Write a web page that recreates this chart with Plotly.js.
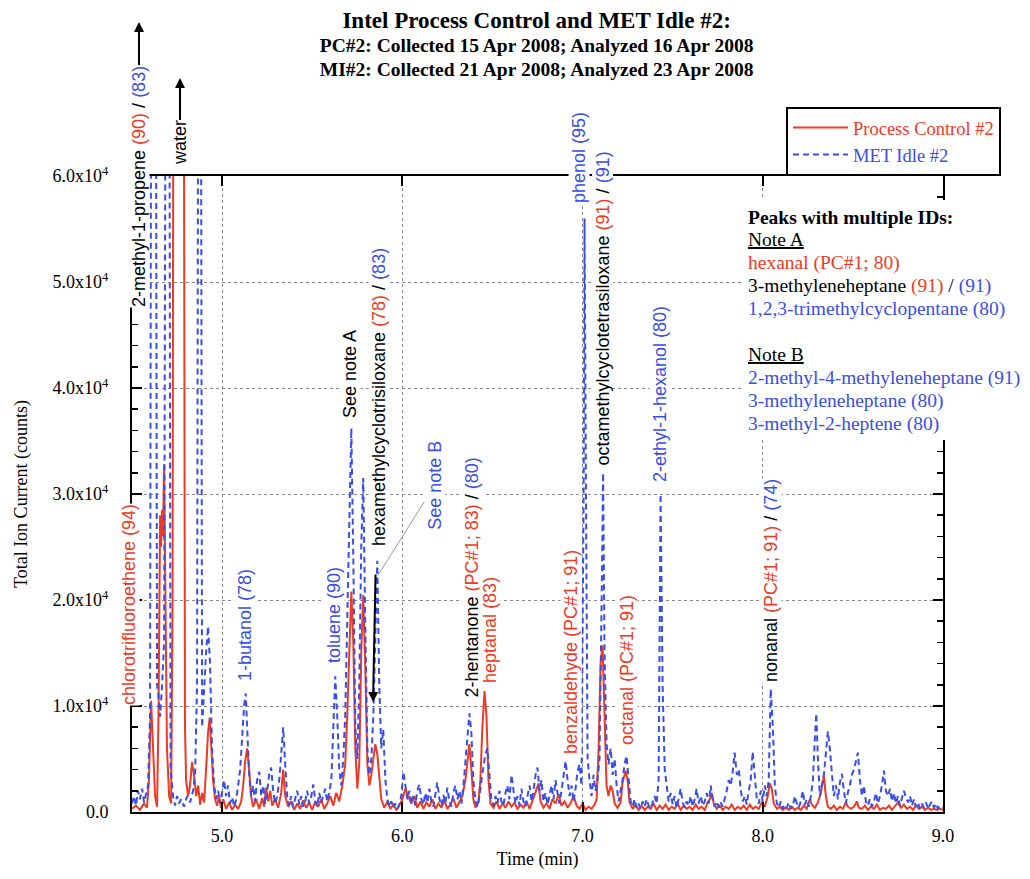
<!DOCTYPE html>
<html>
<head>
<meta charset="utf-8">
<script src="https://cdn.plot.ly/plotly-3.0.1.min.js"></script>
<style>html,body{margin:0;padding:0;background:#fff;}#chart{width:1030px;height:879px;}</style>
</head>
<body>
<div id="chart"></div>
<script>
// ---- Process Control #2 (red, solid): time (min) and total ion current (counts)
const pcTime = [
4.500,4.522,4.544,4.567,4.583,4.594,4.606,4.617,4.628,4.639,
4.647,4.656,4.661,4.667,4.672,4.678,4.686,4.694,4.706,4.717,
4.725,4.731,4.786,4.794,4.800,4.811,4.822,4.833,4.844,4.856,
4.867,4.878,4.889,4.900,4.911,4.922,4.931,4.939,4.950,4.961,
4.972,4.983,4.994,5.006,5.022,5.039,5.056,5.072,5.089,5.106,
5.117,5.128,5.139,5.150,5.161,5.172,5.189,5.206,5.222,5.233,
5.244,5.256,5.267,5.278,5.294,5.311,5.328,5.339,5.350,5.367,
5.383,5.400,5.417,5.433,5.450,5.467,5.483,5.500,5.517,5.533,
5.550,5.567,5.583,5.600,5.617,5.633,5.650,5.667,5.683,5.694,
5.706,5.717,5.728,5.739,5.750,5.761,5.772,5.783,5.794,5.806,
5.817,5.828,5.839,5.850,5.861,5.872,5.883,5.900,5.917,5.933,
5.950,5.967,5.983,6.000,6.017,6.033,6.050,6.067,6.083,6.100,
6.117,6.133,6.150,6.167,6.183,6.200,6.217,6.233,6.250,6.267,
6.283,6.300,6.317,6.333,6.350,6.361,6.372,6.383,6.394,6.406,
6.422,6.433,6.444,6.456,6.467,6.478,6.489,6.506,6.522,6.539,
6.556,6.572,6.589,6.606,6.622,6.639,6.656,6.672,6.689,6.706,
6.722,6.739,6.756,6.767,6.783,6.800,6.817,6.833,6.850,6.867,
6.883,6.900,6.917,6.933,6.950,6.967,6.983,7.000,7.017,7.033,
7.050,7.067,7.078,7.089,7.100,7.111,7.122,7.133,7.144,7.156,
7.167,7.178,7.194,7.211,7.222,7.239,7.250,7.261,7.278,7.294,
7.311,7.328,7.344,7.361,7.378,7.394,7.411,7.428,7.444,7.461,
7.478,7.494,7.511,7.528,7.544,7.561,7.578,7.594,7.611,7.628,
7.644,7.661,7.678,7.694,7.706,7.717,7.728,7.744,7.761,7.778,
7.794,7.811,7.828,7.844,7.861,7.878,7.894,7.911,7.928,7.944,
7.961,7.978,7.994,8.011,8.028,8.039,8.050,8.061,8.078,8.094,
8.111,8.128,8.144,8.161,8.178,8.194,8.211,8.228,8.244,8.261,
8.272,8.289,8.306,8.322,8.339,8.350,8.361,8.378,8.394,8.411,
8.428,8.444,8.461,8.472,8.489,8.506,8.522,8.533,8.550,8.567,
8.583,8.600,8.617,8.633,8.650,8.667,8.683,8.700,8.717,8.733,
8.750,8.767,8.783,8.800,8.817,8.833,8.850,8.867,8.883,8.900,
8.917,8.933,8.950,8.967,8.983,9.000];
const pcCounts = [
300,600,200,800,400,3000,10500,6000,1500,500,
9000,28000,25000,28500,26000,32800,20000,6000,1500,800,
20000,90000,90000,8000,3000,1500,2500,4700,3500,1500,
2500,700,1800,900,4000,7500,8900,6500,3000,1200,
600,1500,400,1200,300,900,200,700,300,1000,
2500,4800,6000,4000,1500,500,1200,300,1300,500,
2300,1000,2000,600,1200,400,1800,4000,1500,500,
1000,200,800,300,1100,400,900,200,1000,500,
1200,300,800,1500,600,1800,1000,2500,4500,9000,
16000,20800,16000,6000,2200,4500,15000,20500,14000,4500,
2500,3500,5000,6400,5500,3000,1200,400,1000,300,
700,200,600,1200,2200,1500,800,1500,400,1000,
300,900,500,1200,300,800,400,1100,300,700,
1300,400,1000,1500,3000,5000,6400,4000,1200,400,
900,3000,8000,11400,9000,3000,800,400,1000,300,
800,400,1000,500,900,300,700,400,1000,300,
1100,1800,2700,1000,400,800,300,1200,800,1700,
600,1000,400,800,1500,600,300,800,200,500,
300,700,1200,6000,14000,15700,9000,2500,1500,2500,
2000,800,400,900,2800,3900,3000,900,300,700,
200,600,200,500,300,800,200,600,300,700,
200,500,300,800,200,600,300,500,200,700,
300,500,200,900,1200,1800,800,300,600,200,
500,300,700,200,500,300,600,200,700,300,
500,300,900,500,1500,2700,2200,800,300,500,
200,400,200,500,200,400,200,600,300,1200,
700,400,900,1800,3400,1500,500,300,600,200,
500,300,900,500,300,500,1000,400,300,600,
200,500,300,700,200,400,300,600,200,500,
900,400,700,300,500,200,600,300,500,200,
400,200,300,200,300,200];

// ---- MET Idle #2 (blue, dashed)
const miTime = [
4.500,4.511,4.522,4.533,4.544,4.556,4.567,4.578,4.589,4.600,
4.608,4.631,4.639,4.647,4.656,4.667,4.678,4.689,4.706,4.714,
4.728,4.739,4.750,4.761,4.772,4.789,4.806,4.822,4.839,4.850,
4.861,4.869,4.881,4.889,4.900,4.911,4.922,4.933,4.944,4.956,
4.967,4.978,4.989,5.000,5.011,5.022,5.033,5.044,5.056,5.067,
5.078,5.089,5.100,5.111,5.122,5.131,5.139,5.150,5.161,5.172,
5.183,5.194,5.206,5.217,5.228,5.239,5.250,5.261,5.272,5.283,
5.294,5.306,5.317,5.328,5.339,5.350,5.361,5.372,5.383,5.394,
5.406,5.417,5.428,5.439,5.450,5.461,5.472,5.483,5.494,5.506,
5.517,5.528,5.539,5.550,5.561,5.572,5.583,5.594,5.606,5.617,
5.628,5.639,5.650,5.661,5.672,5.683,5.694,5.706,5.717,5.728,
5.739,5.750,5.761,5.772,5.783,5.794,5.806,5.817,5.828,5.839,
5.850,5.861,5.872,5.883,5.894,5.906,5.917,5.928,5.939,5.950,
5.961,5.972,5.983,5.994,6.006,6.017,6.028,6.039,6.050,6.061,
6.072,6.083,6.094,6.106,6.117,6.128,6.139,6.150,6.161,6.172,
6.183,6.194,6.206,6.217,6.228,6.239,6.250,6.261,6.272,6.283,
6.294,6.306,6.317,6.328,6.339,6.350,6.361,6.372,6.383,6.394,
6.406,6.417,6.428,6.439,6.450,6.461,6.472,6.483,6.494,6.506,
6.517,6.528,6.539,6.550,6.561,6.572,6.583,6.594,6.606,6.617,
6.628,6.639,6.650,6.661,6.672,6.683,6.694,6.706,6.717,6.728,
6.739,6.750,6.761,6.772,6.783,6.794,6.806,6.817,6.828,6.839,
6.850,6.861,6.872,6.883,6.894,6.906,6.917,6.928,6.939,6.950,
6.961,6.972,6.983,6.994,7.006,7.011,7.019,7.028,7.039,7.050,
7.061,7.072,7.083,7.094,7.106,7.114,7.122,7.133,7.144,7.156,
7.167,7.178,7.189,7.200,7.211,7.222,7.233,7.244,7.256,7.267,
7.278,7.289,7.300,7.311,7.322,7.333,7.344,7.356,7.367,7.378,
7.389,7.400,7.411,7.422,7.433,7.444,7.456,7.467,7.478,7.489,
7.500,7.511,7.522,7.533,7.544,7.556,7.567,7.578,7.589,7.600,
7.611,7.622,7.633,7.644,7.656,7.667,7.678,7.689,7.700,7.711,
7.722,7.733,7.744,7.756,7.767,7.778,7.789,7.800,7.811,7.822,
7.833,7.844,7.856,7.867,7.878,7.889,7.900,7.911,7.922,7.933,
7.944,7.956,7.967,7.978,7.989,8.000,8.011,8.022,8.033,8.044,
8.056,8.067,8.078,8.089,8.100,8.111,8.122,8.133,8.144,8.156,
8.167,8.178,8.189,8.200,8.211,8.222,8.233,8.244,8.256,8.267,
8.278,8.289,8.297,8.306,8.317,8.328,8.339,8.350,8.361,8.372,
8.383,8.394,8.406,8.417,8.428,8.439,8.450,8.461,8.472,8.483,
8.494,8.506,8.517,8.528,8.539,8.550,8.561,8.572,8.583,8.594,
8.606,8.617,8.628,8.639,8.650,8.661,8.672,8.683,8.694,8.706,
8.717,8.728,8.739,8.750,8.761,8.772,8.783,8.794,8.806,8.817,
8.828,8.839,8.850,8.861,8.872,8.883,8.894,8.906,8.917,8.928,
8.939,8.950,8.961,8.972,8.983,9.000];
const miCounts = [
800,1500,600,2000,1200,2200,900,1800,2500,9000,
90000,90000,12000,11000,9000,12000,16000,90000,90000,4000,
1500,600,1500,800,1200,500,1500,900,2000,3500,
12000,90000,90000,8000,12000,15000,17500,14000,6000,2500,
1200,2000,800,1800,3000,1500,2500,800,1400,500,
1200,2500,4000,7000,10000,11200,8000,3500,1500,2500,
1000,3000,3800,1500,2500,800,2000,3500,4200,2000,
800,1500,3000,6000,8000,4500,1500,600,1500,500,
1200,2000,700,1500,500,1000,2000,800,1400,2600,
1000,500,1800,900,1500,2200,1000,1800,3000,8000,
12800,9000,4000,2500,5000,9000,18000,30000,36200,24000,
8000,5000,12000,25000,31500,18000,6000,3500,5000,9000,
16000,23700,12000,6000,7800,3000,1200,500,1000,400,
800,300,700,1500,3800,2500,1200,2000,800,1500,
600,2000,2600,1200,700,1800,900,2200,1000,500,
1500,2800,1200,600,1600,800,2300,1000,500,1800,
2500,1200,2000,800,2500,4500,7000,9300,7500,3000,
1000,500,1500,3000,4500,5500,6000,3500,1200,600,
1500,800,2000,1000,600,1800,2500,1200,3500,2000,
800,1500,600,2200,1000,500,1500,2500,1000,2000,
3500,4200,2000,3000,1000,1800,700,1500,2500,1200,
3000,1800,800,2000,3500,4800,3000,1500,2500,1000,
2200,3800,4500,2500,30000,56000,30000,5000,3000,1500,
3500,2000,3000,5000,20000,32000,15000,6500,4500,6000,
3500,5000,2500,1000,2000,3000,4500,5300,3000,1000,
500,1200,400,800,300,1000,500,1200,600,300,
900,1500,800,3000,30000,12000,4000,2500,1000,1800,
700,1500,400,1200,2200,900,400,1000,600,1500,
500,1200,2200,800,1500,600,1000,1800,800,2500,
1200,500,1000,400,900,500,1200,2000,3000,2500,
3800,5600,3500,4000,2000,1000,1500,700,2000,3000,
5700,3500,1200,800,2000,1000,2500,1500,3000,11600,
8000,2500,800,400,1000,300,700,400,900,300,
600,1500,800,400,1000,2000,700,1200,500,1500,
3000,7000,9300,5000,1500,2500,3500,5500,7600,6000,
3500,1500,2500,1200,2800,3600,2000,800,1800,2500,
3500,4000,4800,5600,3000,1500,2500,1000,600,1200,
500,1000,1800,800,1500,2500,3900,2000,1500,2200,
1000,1800,800,1500,600,1200,2000,1400,900,1500,
600,1200,500,900,300,800,400,900,300,700,
1000,400,800,300,600,400];

// ---- axis ticks
const yTickVals = [0, 10000, 20000, 30000, 40000, 50000, 60000];
const yTickText = ['0.0', '1.0x10<sup>4</sup>', '2.0x10<sup>4</sup>', '3.0x10<sup>4</sup>',
                   '4.0x10<sup>4</sup>', '5.0x10<sup>4</sup>', '6.0x10<sup>4</sup>'];

const RED = '#ee3a24', BLUE = '#3a4ee6';
const SERIF = '"Liberation Serif", "Times New Roman", Times, serif';
const SANS = '"Liberation Sans", Arial, Helvetica, sans-serif';
const r = t => '<span style="color:' + RED + '">' + t + '</span>';
const b = t => '<span style="color:' + BLUE + '">' + t + '</span>';

// ---- peak labels (rotated), positions in paper units
const peakLabels = [
  {x: 0.0086, y: 0.9835, text: '2-methyl-1-propene ' + r('(90)') + ' / ' + b('(83)'),
   arrow: {x: 0.0086, y: 1.2421, ax: 0, ay: 164}},
  {x: 0.0592, y: 1.0511, text: 'water',
   arrow: {x: 0.0592, y: 1.1541, ax: 0, ay: 65}},
  {x: -0.0037, y: 0.3270, text: r('chlorotrifluoroethene (94)')},
  {x: 0.1393, y: 0.2940, text: b('1-butanol (78)')},
  {x: 0.2491, y: 0.3097, text: b('toluene (90)')},
  {x: 0.2688, y: 0.6887, text: 'See note A'},
  {x: 0.3046, y: 0.6533, text: 'hexamethylcyclotrisiloxane ' + r('(78)') + ' / ' + b('(83)'),
   arrow: {x: 0.2972, y: 0.1730, ax: 6, ay: -305, standoff: 28}},
  {x: 0.4192, y: 0.3687, text: '2-hentanone ' + r('(PC#1; 83)') + ' / ' + b('(80)')},
  {x: 0.4414, y: 0.2862, text: r('heptanal (83)')},
  {x: 0.5413, y: 0.2516, text: r('benzaldehyde (PC#1; 91)')},
  {x: 0.5512, y: 1.0283, text: b('phenol (95)')},
  {x: 0.5808, y: 0.7917, text: 'octamethylcyclotetrasiloxane ' + r('(91)') + ' / ' + b('(91)')},
  {x: 0.6104, y: 0.2233, text: r('octanal (PC#1; 91)')},
  {x: 0.6510, y: 0.6572, text: b('2-ethyl-1-hexanol (80)')},
  {x: 0.7879, y: 0.3648, text: 'nonanal ' + r('(PC#1; 91)') + ' / ' + b('(74)')}
];

// ---- "Peaks with multiple IDs" notes block
const noteLines = [
  '<b>Peaks with multiple IDs:</b>',
  '<u>Note A</u>',
  r('hexanal (PC#1; 80)'),
  '3-methyleneheptane ' + r('(91)') + ' / ' + b('(91)'),
  b('1,2,3-trimethylcyclopentane (80)'),
  '<u>Note B</u>',
  b('2-methyl-4-methyleneheptane (91)'),
  b('3-methyleneheptane (80)'),
  b('3-methyl-2-heptene (80)')
];
const noteY = [0.9355, 0.8994, 0.8632, 0.8270, 0.7909, 0.7186, 0.6824, 0.6462, 0.6101];

const annotations = [];
peakLabels.forEach(p => {
  const a = {
    xref: 'paper', yref: 'paper', x: p.x, y: p.y, text: p.text,
    textangle: -90, showarrow: false, xanchor: 'center', yanchor: 'middle',
    bgcolor: 'white', borderpad: 0,
    font: {family: SANS, size: 18, color: '#000'}
  };
  if (p.arrow) {
    Object.assign(a, {x: p.arrow.x, y: p.arrow.y, ax: p.arrow.ax, ay: p.arrow.ay,
      showarrow: true, arrowhead: 2, arrowsize: 1, arrowwidth: 2, arrowcolor: '#000',
      startstandoff: p.arrow.standoff || 0, xanchor: 'auto', yanchor: 'auto'});
  }
  annotations.push(a);
});
// "See note B" with gray leader line to its peak
annotations.push({
  xref: 'x', yref: 'y', x: 5.864, y: 22300, axref: 'x', ayref: 'y', ax: 6.180, ay: 30850,
  text: b('See note B'), textangle: -90, showarrow: true, arrowhead: 0, arrowwidth: 1,
  arrowcolor: '#9a9a9a', bgcolor: 'white', borderpad: 0,
  font: {family: SANS, size: 18, color: '#000'}
});
noteLines.forEach((t, i) => annotations.push({
  xref: 'paper', yref: 'paper', x: 0.7571, y: noteY[i], text: t, showarrow: false,
  xanchor: 'left', yanchor: 'middle', align: 'left',
  font: {family: SERIF, size: 19.5, color: '#000'}
}));

const traces = [
  {x: pcTime, y: pcCounts, type: 'scatter', mode: 'lines',
   name: '<span style="color:' + RED + '">Process Control #2</span>',
   line: {color: RED, width: 2}},
  {x: miTime, y: miCounts, type: 'scatter', mode: 'lines',
   name: '<span style="color:' + BLUE + '">MET Idle #2</span>',
   line: {color: BLUE, width: 2, dash: '6px,4px'}}
];

const layout = {
  width: 1030, height: 879,
  margin: {l: 132, r: 87, t: 176, b: 67},
  paper_bgcolor: 'white', plot_bgcolor: 'white',
  font: {family: SERIF, size: 18, color: '#000'},
  title: {
    text: '<span style="font-size:23px">Intel Process Control and MET Idle #2:</span><br>' +
          '<span style="font-size:19.5px">PC#2: Collected 15 Apr 2008; Analyzed 16 Apr 2008</span><br>' +
          '<span style="font-size:19.5px">MI#2: Collected 21 Apr 2008; Analyzed 23 Apr 2008</span>',
    x: 0.521, xanchor: 'center', xref: 'container',
    y: 0.968, yanchor: 'top', yref: 'container',
    font: {family: SERIF, size: 18.5, color: '#000', weight: 'bold'}
  },
  showlegend: true,
  legend: {
    x: 0.8064, y: 1.1085, xanchor: 'left', yanchor: 'top',
    bgcolor: 'white', bordercolor: '#000', borderwidth: 2,
    font: {family: SERIF, size: 18.5, color: '#000'},
    itemwidth: 55, tracegroupgap: 0
  },
  xaxis: {
    range: [4.5, 9.0], tick0: 5, dtick: 1, tickformat: '.1f',
    ticks: 'inside', ticklen: 10, tickwidth: 2, tickcolor: '#000',
    showline: true, linecolor: '#000', linewidth: 2, mirror: 'ticks',
    showgrid: true, gridcolor: '#8a8a8a', gridwidth: 1, griddash: 'dot',
    zeroline: false, ticklabelstandoff: 6,
    tickfont: {family: SERIF, size: 18},
    title: {text: 'Time (min)', standoff: 8, font: {family: SERIF, size: 18}}
  },
  yaxis: {
    range: [0, 60000], tickmode: 'array', tickvals: yTickVals, ticktext: yTickText,
    ticks: 'inside', ticklen: 10, tickwidth: 2, tickcolor: '#000',
    minor: {tickmode: 'linear', tick0: 0, dtick: 2000, ticks: 'inside', ticklen: 6,
            tickwidth: 1.5, tickcolor: '#000', showgrid: false},
    showline: true, linecolor: '#000', linewidth: 2, mirror: 'ticks',
    showgrid: true, gridcolor: '#8a8a8a', gridwidth: 1, griddash: 'dot',
    zeroline: false, ticklabelstandoff: 18,
    tickfont: {family: SERIF, size: 18},
    title: {text: 'Total Ion Current (counts)', standoff: 20, font: {family: SERIF, size: 18}}
  },
  shapes: [
    {type: 'rect', xref: 'paper', yref: 'paper', x0: 0.7534, x1: 1.1048, y0: 0.5849, y1: 0.9623,
     fillcolor: 'white', line: {width: 0}, layer: 'above'}
  ],
  annotations: annotations
};

Plotly.newPlot('chart', traces, layout, {displayModeBar: false, staticPlot: true});
</script>
</body>
</html>
